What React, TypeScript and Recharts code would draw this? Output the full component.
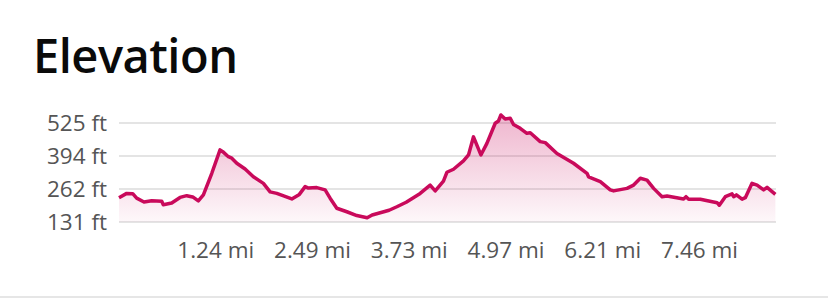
import React from "react";
import { AreaChart, Area, XAxis, YAxis, CartesianGrid } from "recharts";

// distance along the route (mi) and elevation (ft)
const distanceMi = [
  0, 0.099, 0.176, 0.227, 0.321, 0.42, 0.549, 0.569, 0.677, 0.784, 0.87, 0.947,
  1.019, 1.084, 1.192, 1.298, 1.333, 1.405, 1.449, 1.513, 1.62, 1.726, 1.855,
  1.941, 2.027, 2.22, 2.317, 2.391, 2.433, 2.541, 2.648, 2.712, 2.798, 2.927,
  3.055, 3.188, 3.252, 3.47, 3.569, 3.689, 3.869, 3.997, 4.062, 4.168, 4.212,
  4.297, 4.425, 4.49, 4.554, 4.649, 4.726, 4.833, 4.875, 4.906, 4.961, 5.026,
  5.068, 5.154, 5.24, 5.283, 5.411, 5.476, 5.626, 5.839, 6.012, 6.032, 6.183,
  6.311, 6.354, 6.526, 6.611, 6.697, 6.783, 6.868, 6.976, 7.04, 7.253, 7.284,
  7.318, 7.468, 7.683, 7.712, 7.789, 7.875, 7.896, 7.931, 8.004, 8.046, 8.132,
  8.197, 8.281, 8.325, 8.432,
];

const elevationFt = [
  228, 245, 244, 226, 211, 216, 214, 200, 207, 229, 236, 231,
  215, 239, 325, 418, 411, 391, 385, 365, 342, 311, 285,
  251, 245, 223, 241, 272, 266, 268, 259, 226, 186, 172,
  157, 148, 159, 178, 192, 210, 245, 278, 255, 294, 329,
  341, 374, 398, 470, 398, 444, 524, 533, 557, 541, 544,
  519, 504, 484, 486, 451, 447, 404, 365, 325, 311, 292,
  259, 255, 265, 278, 305, 298, 265, 232, 235, 223, 232,
  222, 222, 208, 198, 232, 243, 232, 239, 222, 228, 285,
  278, 259, 269, 241,
];

const yTicks = [131.25, 262.5, 393.75, 525];
const yTickLabels = ["131 ft", "262 ft", "394 ft", "525 ft"];
const xTicks = [1.243, 2.486, 3.729, 4.972, 6.215, 7.458];
const xTickLabels = ["1.24 mi", "2.49 mi", "3.73 mi", "4.97 mi", "6.21 mi", "7.46 mi"];

const data = distanceMi.map((d, i) => ({ dist: d, elev: elevationFt[i] }));

const LINE = "#c90a5b";
const tickStyle = { fontFamily: "'Open Sans', sans-serif", fontSize: 22.5, fill: "#555555" };

export default function App() {
  return (
    <div
      style={{
        position: "absolute",
        left: 0,
        top: 0,
        width: 828,
        height: 300,
        background: "#ffffff",
        overflow: "hidden",
      }}
    >
      <div
        style={{
          position: "absolute",
          left: 33,
          top: 32,
          fontFamily: "'Open Sans', sans-serif",
          fontWeight: 600,
          fontSize: 47,
          lineHeight: "47px",
          color: "#0a0a0a",
          letterSpacing: -0.5,
        }}
      >
        Elevation
      </div>
      <div style={{ position: "absolute", left: 0, top: 0 }}>
        <AreaChart
          width={828}
          height={300}
          data={data}
          margin={{ top: 106.5, right: 52, left: 0, bottom: 28 }}
        >
          <defs>
            <linearGradient id="elevFill" x1="0" y1="0" x2="0" y2="1">
              <stop offset="0%" stopColor={LINE} stopOpacity={0.3} />
              <stop offset="100%" stopColor={LINE} stopOpacity={0.03} />
            </linearGradient>
          </defs>
          <CartesianGrid
            vertical={false}
            horizontalValues={yTicks}
            stroke="#e4e4e4"
            strokeWidth={2}
          />
          <XAxis
            dataKey="dist"
            type="number"
            domain={[0, 8.44]}
            ticks={xTicks}
            tickFormatter={(v: number) => xTickLabels[xTicks.indexOf(v)] ?? ""}
            axisLine={false}
            tickLine={false}
            tickSize={0}
            tickMargin={20}
            height={50}
            tick={tickStyle}
            interval={0}
          />
          <YAxis
            type="number"
            domain={[131.25, 590.625]}
            ticks={yTicks}
            tickFormatter={(v: number) => yTickLabels[yTicks.indexOf(v)] ?? ""}
            axisLine={false}
            tickLine={false}
            tickSize={0}
            tickMargin={12}
            width={119}
            tick={tickStyle}
            interval={0}
          />
          <Area
            type="linear"
            dataKey="elev"
            stroke={LINE}
            strokeWidth={3.5}
            strokeLinejoin="round"
            fill="url(#elevFill)"
            fillOpacity={1}
            dot={false}
            activeDot={false}
            isAnimationActive={false}
          />
        </AreaChart>
      </div>
      <div
        style={{
          position: "absolute",
          left: 0,
          top: 296,
          width: 828,
          height: 2,
          background: "#e6e6e6",
        }}
      />
    </div>
  );
}
